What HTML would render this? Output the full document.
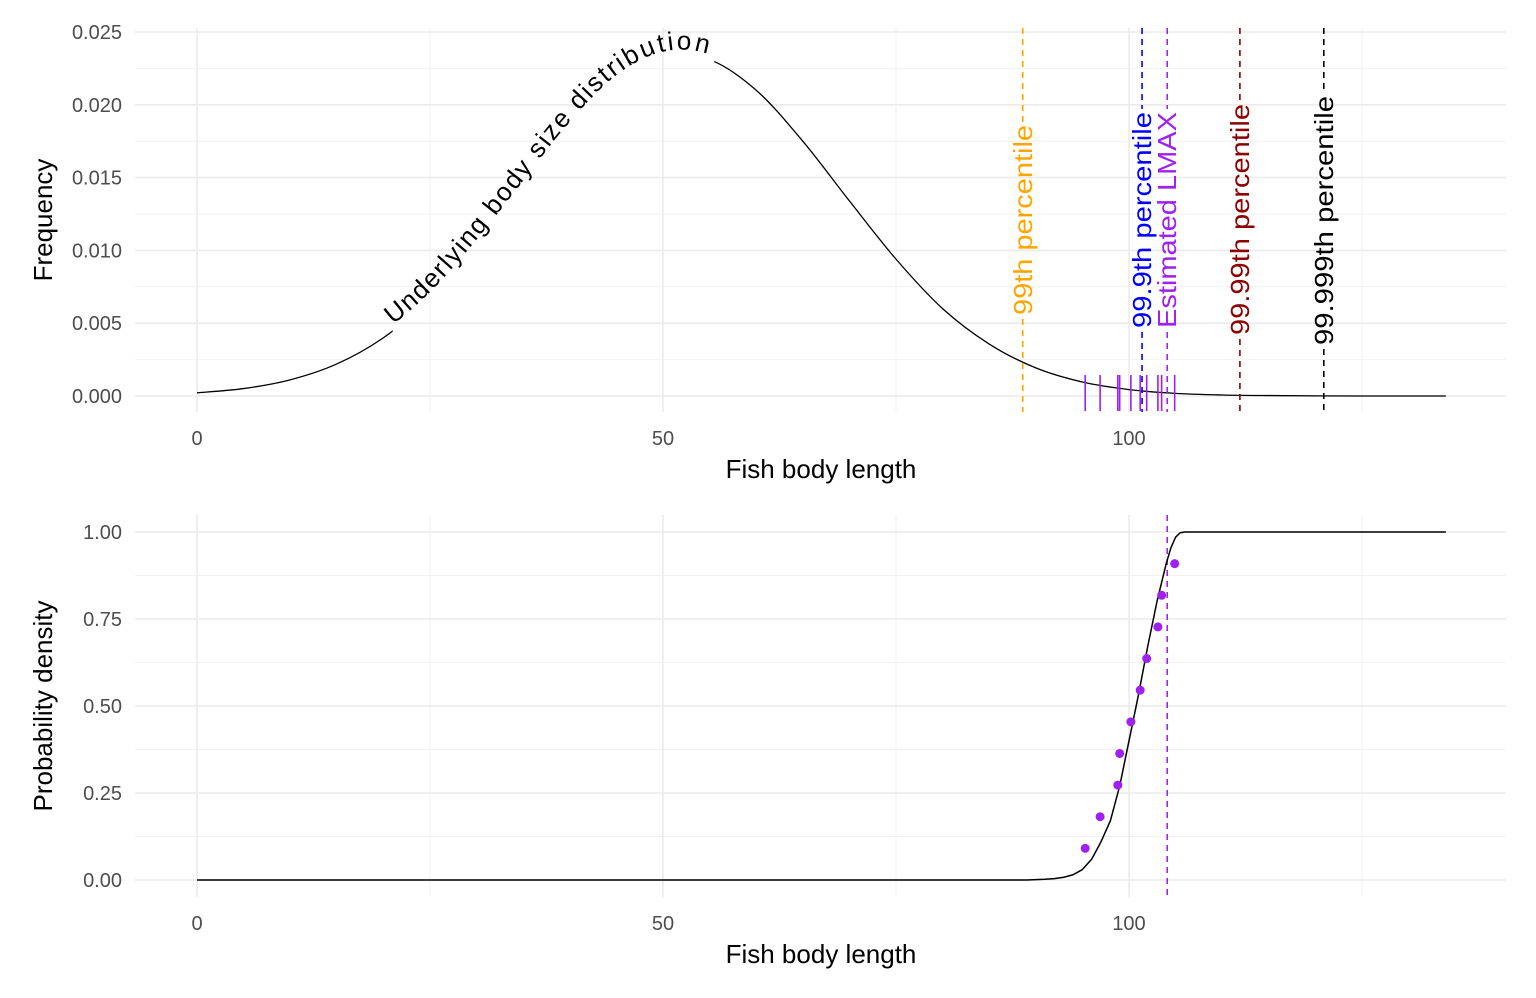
<!DOCTYPE html>
<html><head><meta charset="utf-8"><style>
body{margin:0;background:#fff;}
svg{display:block;font-family:"Liberation Sans",Arial,sans-serif;}
</style></head><body>
<svg id="chart" width="1536" height="998" viewBox="0 0 1536 998"></svg>
<script>
// ---- data ----
const densX = [0,5,10,15,20,25,30,35,40,45,50,55,60,65,70,75,80,85,90,95,100,105,110,115,120,125,130,134];
const densY = [0.00022,0.00051,0.00111,0.0022,0.0040,0.00665,0.0102,0.01423,0.0183,0.0216,0.0233,0.0231,0.0210,0.0175,0.0134,0.0094,0.0060,0.00357,0.00193,0.00096,0.00044,0.00018,0.00007,0.00003,0.00001,0,0,0];
const cdfX = [0,89,90,91,92,93,94,95,96,97,98,99,100,101,102,103,104,104.5,105,105.5,106,134];
const cdfY = [0,0,0.001,0.002,0.004,0.008,0.015,0.03,0.06,0.11,0.17,0.27,0.40,0.53,0.67,0.80,0.91,0.955,0.985,0.998,1,1];
const obs = [95.3,96.9,98.8,99.0,100.2,101.2,101.9,103.1,103.5,104.9];
const obsP = [0.0909,0.1818,0.2727,0.3636,0.4545,0.5455,0.6364,0.7273,0.8182,0.9091];
const vlineNames = ["99th percentile","99.9th percentile","Estimated LMAX","99.99th percentile","99.999th percentile"];
const vlineX = [88.6,101.4,104.1,111.9,120.9];
const vlineColors = ["orange","blue","#a020f0","darkred","black"];
const lmax = 104.1;
const xTicks = [0,50,100];
const yTicksTop = [0,0.005,0.010,0.015,0.020,0.025];
const yLabelsTop = ["0.000","0.005","0.010","0.015","0.020","0.025"];
const yTicksBot = [0,0.25,0.5,0.75,1];
const yLabelsBot = ["0.00","0.25","0.50","0.75","1.00"];

const NS="http://www.w3.org/2000/svg";
const svg=document.getElementById('chart');
function el(tag,attrs,parent){const e=document.createElementNS(NS,tag);for(const k in attrs)e.setAttribute(k,attrs[k]);(parent||svg).appendChild(e);return e;}
const sx=v=>197+v*9.32;
const syT=v=>396-v*14560;
const syB=v=>880-v*348;
const L=135,R=1506;

function smooth(pts){
  let d='M'+pts[0][0]+','+pts[0][1];
  for(let i=0;i<pts.length-1;i++){
    const p0=pts[Math.max(0,i-1)],p1=pts[i],p2=pts[i+1],p3=pts[Math.min(pts.length-1,i+2)];
    const c1=[p1[0]+(p2[0]-p0[0])/6,p1[1]+(p2[1]-p0[1])/6];
    const c2=[p2[0]-(p3[0]-p1[0])/6,p2[1]-(p3[1]-p1[1])/6];
    d+=` C${c1[0]},${c1[1]} ${c2[0]},${c2[1]} ${p2[0]},${p2[1]}`;
  }
  return d;
}

function panel(top,bot,sy,ticks,labels,ylab,name){
  const g=el('g',{});
  
  
  for(let i=0;i<ticks.length-1;i++){const y=sy((ticks[i]+ticks[i+1])/2);el('line',{x1:L,x2:R,y1:y,y2:y,stroke:'#f2f2f2','stroke-width':1},g);}
  [25,75,125].forEach(v=>el('line',{x1:sx(v),x2:sx(v),y1:top,y2:bot,stroke:'#f2f2f2','stroke-width':1},g));
  ticks.forEach((t,i)=>{const y=sy(t);
    const gl=el('line',{x1:L,x2:R,y1:y,y2:y,stroke:'#ebebeb','stroke-width':1.6},g);
    
    const tx=el('text',{x:122,y:y+7,'text-anchor':'end','font-size':20,fill:'#4d4d4d'},g);tx.textContent=labels[i];
    });
  xTicks.forEach(t=>{const x=sx(t);
    el('line',{x1:x,x2:x,y1:top,y2:bot,stroke:'#ebebeb','stroke-width':1.6},g);
    const tx=el('text',{x:x,y:bot+33,'text-anchor':'middle','font-size':20,fill:'#4d4d4d'},g);tx.textContent=t;
    });
  const xt=el('text',{x:821,y:bot+66,'text-anchor':'middle','font-size':26,fill:'#000'},g);xt.textContent='Fish body length';
  
  const cy=(top+bot)/2;
  const yt=el('text',{x:52,y:cy,'text-anchor':'middle','font-size':26,fill:'#000',transform:`rotate(-90 52 ${cy})`},g);yt.textContent=ylab;
  
}
panel(28,412,syT,yTicksTop,yLabelsTop,'Frequency','top');
panel(515,897,syB,yTicksBot,yLabelsBot,'Probability density','bottom');

// top curve with text path
const pts=densX.map((x,i)=>[sx(x),syT(densY[i])]);
const d=smooth(pts);
const defs=el('defs',{});
const cp=el('clipPath',{id:'gapclip'},defs);
el('rect',{x:0,y:0,width:sx(21),height:998},cp);
el('rect',{x:sx(55.5),y:0,width:1536,height:998},cp);
const dp=el('path',{id:'denspath',d:d,fill:'none',stroke:'none'},defs);
const curve=el('path',{d:d,fill:'none',stroke:'#000','stroke-width':1.3,'clip-path':'url(#gapclip)'});

const total=dp.getTotalLength();
let startLen=0,endLen=0;
for(let s=0;s<total;s+=1){if(dp.getPointAtLength(s).x>=sx(21.3)){startLen=s;break;}}
for(let s=0;s<total;s+=1){if(dp.getPointAtLength(s).x>=sx(54.6)){endLen=s;break;}}
const ct=el('text',{'font-size':26,fill:'#000',dy:-5});

const tp=el('textPath',{href:'#denspath',startOffset:startLen,'text-anchor':'start',textLength:endLen-startLen,lengthAdjust:'spacing'},ct);
tp.textContent='Underlying body size distribution';

// vlines
const labTop=[125,112,112,104,96],labBot=[315,328,328,335,345];
vlineX.forEach((v,i)=>{
  const x=sx(v),c=vlineColors[i];
  const a=el('line',{x1:x,x2:x,y1:28,y2:labTop[i]-3,stroke:c,'stroke-width':1.6,'stroke-dasharray':'6,5'});
  
  const b=el('line',{x1:x,x2:x,y1:labBot[i]+4,y2:412,stroke:c,'stroke-width':1.6,'stroke-dasharray':'6,5'});
  
  const cy=(labTop[i]+labBot[i])/2;
  const t=el('text',{x:x+9,y:cy,'text-anchor':'middle','font-size':26,fill:c,transform:`rotate(-90 ${x+9} ${cy})`,textLength:labBot[i]-labTop[i],lengthAdjust:'spacingAndGlyphs'});
  t.textContent=vlineNames[i];
  
});
// rug
obs.forEach(v=>{const r=el('line',{x1:sx(v),x2:sx(v),y1:375,y2:411,stroke:'#a020f0','stroke-width':1.6});
  });

// bottom
const lm=el('line',{x1:sx(lmax),x2:sx(lmax),y1:515,y2:897,stroke:'#a020f0','stroke-width':1.6,'stroke-dasharray':'6,5'});

const cd='M'+cdfX.map((x,i)=>sx(x)+','+syB(cdfY[i])).join(' L');
const cc=el('path',{d:cd,fill:'none',stroke:'#000','stroke-width':1.5,'stroke-linejoin':'round'});

obs.forEach((v,i)=>{const p=el('circle',{cx:sx(v),cy:syB(obsP[i]),r:4.5,fill:'#a020f0'});
  });
</script>
</body></html>
